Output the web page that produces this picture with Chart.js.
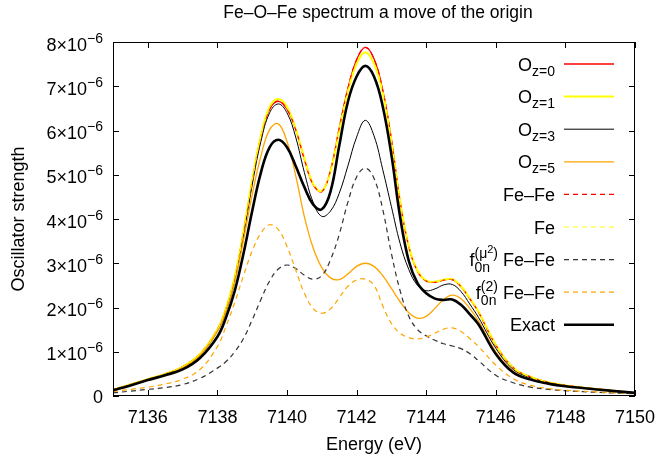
<!DOCTYPE html>
<html>
<head>
<meta charset="utf-8">
<title>Fe-O-Fe spectrum</title>
<script src="https://cdn.jsdelivr.net/npm/chart.js@4.4.1/dist/chart.umd.min.js"></script>
<style>
  html, body { margin: 0; padding: 0; background: #fff; }
  #wrap { width: 661px; height: 457px; }
</style>
</head>
<body>
<div id="wrap"><canvas id="chart" width="661" height="457"></canvas></div>
<script>
// energies in eV, oscillator strengths in units of 1e-6
var energies = [7135, 7135.5, 7136, 7136.5, 7137, 7137.5, 7138, 7138.25, 7138.5, 7138.75,
    7139, 7139.25, 7139.5, 7139.75, 7140, 7140.25, 7140.5, 7140.75, 7141, 7141.25,
    7141.5, 7141.75, 7142, 7142.25, 7142.5, 7142.75, 7143, 7143.25, 7143.5, 7143.75,
    7144, 7144.25, 7144.5, 7144.75, 7145, 7145.25, 7145.5, 7146, 7146.5, 7147,
    7147.5, 7148, 7149, 7150];

var oz0 = [0.14, 0.26, 0.38, 0.50, 0.66, 0.95, 1.50, 1.98, 2.68, 3.70,
    4.85, 5.85, 6.48, 6.66, 6.48, 6.02, 5.35, 4.78, 4.62, 5.10,
    6.05, 6.95, 7.60, 7.88, 7.62, 6.92, 5.80, 4.40, 3.38, 2.82,
    2.60, 2.57, 2.62, 2.63, 2.47, 2.20, 1.90, 1.15, 0.64, 0.43,
    0.31, 0.24, 0.15, 0.07];

var oz1 = [0.14, 0.26, 0.38, 0.50, 0.66, 0.95, 1.50, 1.99, 2.69, 3.72,
    4.88, 5.88, 6.53, 6.71, 6.53, 6.04, 5.37, 4.80, 4.63, 5.08,
    6.00, 6.88, 7.51, 7.77, 7.51, 6.86, 5.76, 4.40, 3.39, 2.83,
    2.61, 2.58, 2.63, 2.64, 2.48, 2.21, 1.91, 1.16, 0.64, 0.43,
    0.31, 0.24, 0.15, 0.07];

var oz3 = [0.14, 0.25, 0.37, 0.49, 0.64, 0.92, 1.46, 1.92, 2.60, 3.62,
    4.77, 5.75, 6.40, 6.60, 6.40, 5.85, 5.05, 4.38, 4.06, 4.18,
    4.58, 5.20, 5.85, 6.23, 5.88, 5.12, 4.28, 3.45, 2.86, 2.50,
    2.38, 2.42, 2.51, 2.52, 2.36, 2.08, 1.78, 1.08, 0.60, 0.41,
    0.30, 0.23, 0.14, 0.07];

var oz5 = [0.14, 0.25, 0.37, 0.49, 0.64, 0.92, 1.46, 1.92, 2.58, 3.52,
    4.55, 5.42, 6.02, 6.15, 5.75, 4.98, 4.05, 3.35, 2.90, 2.67,
    2.63, 2.76, 2.93, 3.00, 2.93, 2.72, 2.43, 2.13, 1.88, 1.76,
    1.80, 1.98, 2.18, 2.28, 2.20, 1.98, 1.70, 1.00, 0.56, 0.38,
    0.28, 0.22, 0.14, 0.07];

var feFe = [0.14, 0.26, 0.38, 0.50, 0.66, 0.95, 1.50, 1.98, 2.68, 3.70,
    4.85, 5.85, 6.48, 6.67, 6.48, 6.02, 5.35, 4.78, 4.62, 5.10,
    6.05, 6.95, 7.60, 7.88, 7.62, 6.92, 5.80, 4.40, 3.38, 2.82,
    2.60, 2.57, 2.62, 2.63, 2.47, 2.20, 1.90, 1.15, 0.64, 0.43,
    0.31, 0.24, 0.15, 0.07];

var fe = [0.14, 0.26, 0.38, 0.50, 0.66, 0.95, 1.50, 1.99, 2.69, 3.72,
    4.88, 5.88, 6.53, 6.71, 6.53, 6.04, 5.37, 4.80, 4.63, 5.08,
    6.00, 6.88, 7.51, 7.77, 7.51, 6.86, 5.76, 4.40, 3.39, 2.83,
    2.61, 2.58, 2.63, 2.64, 2.48, 2.21, 1.91, 1.16, 0.64, 0.43,
    0.31, 0.24, 0.15, 0.07];

var muFeFe = [0.07, 0.11, 0.15, 0.19, 0.26, 0.40, 0.63, 0.78, 1.00, 1.30,
    1.72, 2.18, 2.60, 2.87, 2.96, 2.88, 2.73, 2.64, 2.72, 3.08,
    3.65, 4.38, 4.95, 5.15, 4.92, 4.22, 3.22, 2.38, 1.80, 1.50,
    1.36, 1.26, 1.18, 1.13, 1.07, 0.96, 0.80, 0.47, 0.30, 0.20,
    0.15, 0.12, 0.08, 0.05];

var f2FeFe = [0.10, 0.15, 0.20, 0.27, 0.38, 0.60, 1.12, 1.58, 2.12, 2.72,
    3.28, 3.68, 3.87, 3.76, 3.38, 2.85, 2.32, 1.98, 1.87, 1.97,
    2.22, 2.48, 2.62, 2.64, 2.50, 2.04, 1.64, 1.42, 1.32, 1.29,
    1.33, 1.42, 1.51, 1.54, 1.46, 1.30, 1.12, 0.70, 0.39, 0.24,
    0.17, 0.13, 0.09, 0.05];

var exact = [0.13, 0.24, 0.36, 0.47, 0.60, 0.86, 1.34, 1.78, 2.38, 3.22,
    4.18, 5.05, 5.62, 5.79, 5.62, 5.20, 4.72, 4.33, 4.22, 4.62,
    5.65, 6.65, 7.22, 7.46, 7.22, 6.55, 5.45, 4.05, 3.05, 2.55,
    2.32, 2.20, 2.17, 2.18, 2.06, 1.85, 1.62, 0.95, 0.53, 0.37,
    0.28, 0.22, 0.14, 0.07];

var xTicks = [7136, 7138, 7140, 7142, 7144, 7146, 7148, 7150];
var yTicks = [0, 1, 2, 3, 4, 5, 6, 7, 8];

var FONT = '"Liberation Sans", Arial, Helvetica, sans-serif';
var BIG = 18, SMALL = 14, TINY = 11;

function points(values) {
    return values.map(function(v, i) {
        return { x: energies[i], y: v };
    });
}

function series(label, values, color, width, dash, order) {
    return {
        label: label,
        data: points(values),
        borderColor: color,
        borderWidth: width,
        borderDash: dash || [],
        pointRadius: 0,
        fill: false,
        tension: 0.4,
        order: order
    };
}

// legend text as runs: plain text, sub/superscripts, stacked groups
var legendItems = [
    { runs: [{ t: 'O', s: BIG, dy: 0 }, { t: 'z=0', s: SMALL, dy: 5 }], color: '#ff0000', width: 1.3, dash: [] },
    { runs: [{ t: 'O', s: BIG, dy: 0 }, { t: 'z=1', s: SMALL, dy: 5 }], color: '#ffff00', width: 2, dash: [] },
    { runs: [{ t: 'O', s: BIG, dy: 0 }, { t: 'z=3', s: SMALL, dy: 5 }], color: '#000000', width: 1, dash: [] },
    { runs: [{ t: 'O', s: BIG, dy: 0 }, { t: 'z=5', s: SMALL, dy: 5 }], color: '#ffa500', width: 1.3, dash: [] },
    { runs: [{ t: 'Fe\u2013Fe', s: BIG, dy: 0 }], color: '#ff0000', width: 1.2, dash: [5, 4] },
    { runs: [{ t: 'Fe', s: BIG, dy: 0 }], color: '#ffff00', width: 1.2, dash: [5, 4] },
    { runs: [{ t: 'f', s: BIG, dy: 0 },
             { stack: [[{ t: '0n', s: SMALL, dy: 6 }],
                       [{ t: '(\u03bc', s: SMALL, dy: -8 }, { t: '2', s: TINY, dy: -13 }, { t: ')', s: SMALL, dy: -8 }]] },
             { t: ' Fe\u2013Fe', s: BIG, dy: 0 }], color: '#333333', width: 1.2, dash: [5, 4] },
    { runs: [{ t: 'f', s: BIG, dy: 0 },
             { stack: [[{ t: '0n', s: SMALL, dy: 6 }],
                       [{ t: '(2)', s: SMALL, dy: -8 }]] },
             { t: ' Fe\u2013Fe', s: BIG, dy: 0 }], color: '#ffa500', width: 1.2, dash: [5, 4] },
    { runs: [{ t: 'Exact', s: BIG, dy: 0 }], color: '#000000', width: 2.6, dash: [] }
];

function runWidth(ctx, list) {
    var w = 0;
    list.forEach(function(r) {
        if (r.stack) {
            w += Math.max.apply(null, r.stack.map(function(l) { return runWidth(ctx, l); }));
        } else {
            ctx.font = r.s + 'px ' + FONT;
            w += ctx.measureText(r.t).width;
        }
    });
    return w;
}

function drawRuns(ctx, list, x, base) {
    list.forEach(function(r) {
        if (r.stack) {
            r.stack.forEach(function(l) { drawRuns(ctx, l, x, base); });
            x += Math.max.apply(null, r.stack.map(function(l) { return runWidth(ctx, l); }));
        } else {
            ctx.font = r.s + 'px ' + FONT;
            ctx.fillText(r.t, x, base + r.dy);
            x += ctx.measureText(r.t).width;
        }
    });
}

var gnuplotFrame = {
    id: 'gnuplotFrame',
    afterDraw: function(chart) {
        var ctx = chart.ctx;
        var area = chart.chartArea;
        var xs = chart.scales.x, ys = chart.scales.y;
        var tick = 6;

        ctx.save();
        ctx.strokeStyle = '#000';
        ctx.lineWidth = 1;
        ctx.setLineDash([]);
        ctx.strokeRect(area.left + 0.5, area.top + 0.5, area.right - area.left - 1, area.bottom - area.top - 1);

        ctx.beginPath();
        xTicks.forEach(function(v) {
            var px = Math.round(xs.getPixelForValue(v)) + 0.5;
            ctx.moveTo(px, area.bottom);
            ctx.lineTo(px, area.bottom - tick);
            ctx.moveTo(px, area.top);
            ctx.lineTo(px, area.top + tick);
        });
        yTicks.forEach(function(v) {
            var py = Math.round(ys.getPixelForValue(v)) + 0.5;
            ctx.moveTo(area.left, py);
            ctx.lineTo(area.left + tick, py);
            ctx.moveTo(area.right, py);
            ctx.lineTo(area.right - tick, py);
        });
        ctx.stroke();

        ctx.fillStyle = '#000';
        ctx.textBaseline = 'alphabetic';

        // x tick labels
        ctx.font = BIG + 'px ' + FONT;
        ctx.textAlign = 'center';
        xTicks.forEach(function(v) {
            ctx.fillText(String(v), xs.getPixelForValue(v), 423);
        });

        // y tick labels with exponent
        ctx.textAlign = 'left';
        yTicks.forEach(function(v) {
            var py = ys.getPixelForValue(v);
            var runs = v === 0 ? [{ t: '0', s: BIG, dy: 0 }]
                : [{ t: v + '\u00d710', s: BIG, dy: 0 }, { t: '\u22126', s: SMALL, dy: -8 }];
            var w = runWidth(ctx, runs);
            drawRuns(ctx, runs, 103 - w, py + (v === 0 ? 6.5 : 8.5));
        });

        // axis titles and title
        ctx.font = BIG + 'px ' + FONT;
        ctx.textAlign = 'center';
        ctx.fillText('Energy (eV)', (area.left + area.right) / 2, 450);
        ctx.font = '17.5px ' + FONT;
        ctx.fillText('Fe\u2013O\u2013Fe spectrum a move of the origin', (area.left + area.right) / 2 + 4, 18);

        ctx.font = BIG + 'px ' + FONT;
        ctx.save();
        ctx.translate(24, (area.top + area.bottom) / 2);
        ctx.rotate(-Math.PI / 2);
        ctx.fillText('Oscillator strength', 0, 0);
        ctx.restore();

        // key
        ctx.textAlign = 'left';
        legendItems.forEach(function(item, i) {
            var y = 64 + i * 32.6;
            var w = runWidth(ctx, item.runs);
            drawRuns(ctx, item.runs, 555 - w, y + 6.5);
            ctx.beginPath();
            ctx.strokeStyle = item.color;
            ctx.lineWidth = item.width;
            ctx.setLineDash(item.dash);
            ctx.moveTo(564, y);
            ctx.lineTo(614, y);
            ctx.stroke();
        });
        ctx.restore();
    }
};

new Chart(document.getElementById('chart'), {
    type: 'line',
    data: {
        datasets: [
            series('O z=0', oz0, '#ff0000', 1.3, null, 8),
            series('O z=1', oz1, '#ffff00', 2, null, 7),
            series('O z=3', oz3, '#000000', 1, null, 6),
            series('O z=5', oz5, '#ffa500', 1.3, null, 5),
            series('Fe\u2013Fe', feFe, '#ff0000', 1.2, [5, 4], 4),
            series('Fe', fe, '#ffff00', 1.2, [5, 4], 3),
            series('f0n(\u03bc2) Fe\u2013Fe', muFeFe, '#333333', 1.2, [5, 4], 2),
            series('f0n(2) Fe\u2013Fe', f2FeFe, '#ffa500', 1.2, [5, 4], 1),
            series('Exact', exact, '#000000', 2.6, null, 0)
        ]
    },
    options: {
        responsive: false,
        animation: false,
        layout: { padding: { left: 113, right: 26, top: 42, bottom: 61 } },
        scales: {
            x: { type: 'linear', display: false, min: 7135, max: 7150 },
            y: { display: false, min: 0, max: 8 }
        },
        plugins: {
            legend: { display: false },
            tooltip: { enabled: false },
            title: { display: false }
        }
    },
    plugins: [gnuplotFrame]
});
</script>
</body>
</html>
